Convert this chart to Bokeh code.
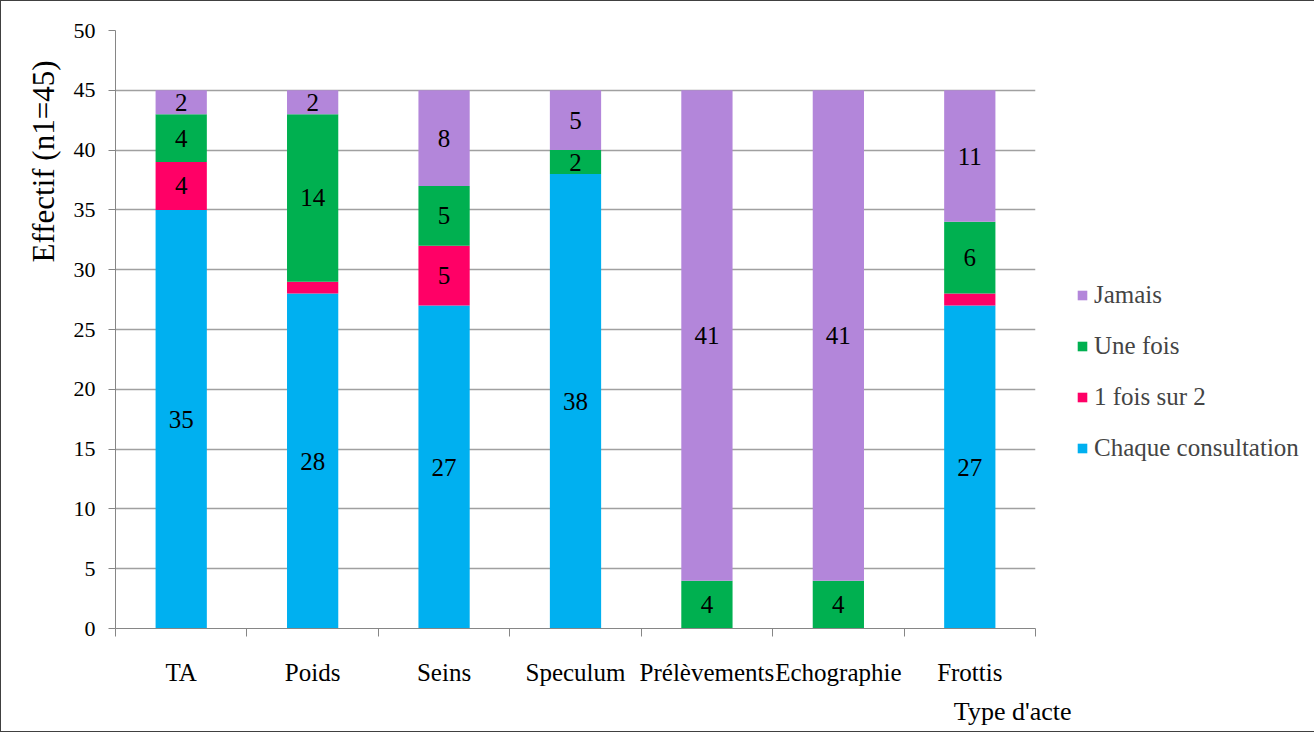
from bokeh.plotting import figure
from bokeh.models import (ColumnDataSource, Range1d, FixedTicker,
                          Legend, LegendItem, LabelSet, Title)
from bokeh.embed import file_html
from bokeh.resources import INLINE

categories = ["TA", "Poids", "Seins", "Speculum", "Prélèvements", "Echographie", "Frottis"]
series_names = ["Chaque consultation", "1 fois sur 2", "Une fois", "Jamais"]
chaque = [35, 28, 27, 38, 0, 0, 27]
une_sur_deux = [4, 1, 5, 0, 0, 0, 1]
une_fois = [4, 14, 5, 2, 4, 4, 6]
jamais = [2, 2, 8, 5, 41, 41, 11]
colors = ["#00B0F0", "#FF0066", "#00B050", "#B386DA"]
y_ticks = list(range(0, 51, 5))
y_title = "Effectif (n1=45)"
x_title = "Type d'acte"

FONT = "Liberation Serif"
keys = ["s0", "s1", "s2", "s3"]
xs = [i + 0.5 for i in range(len(categories))]
data = {"x": xs}
for k, vals in zip(keys, [chaque, une_sur_deux, une_fois, jamais]):
    data[k] = vals
source = ColumnDataSource(data)

p = figure(frame_width=920, frame_height=598, output_backend="svg", toolbar_location=None,
           x_range=Range1d(0, len(categories)), y_range=Range1d(0, 50),
           min_border_left=114, min_border_right=266, min_border_top=29,
           min_border_bottom=92,
           background_fill_color="white", border_fill_color="white")
p.outline_line_color = None
p.styles = {"border": "1px solid #404040"}

renderers = p.vbar_stack(keys, x="x", width=0.39, source=source, color=colors, line_color=None)

# value labels
lx, ly, lt = [], [], []
for i in range(len(categories)):
    base = 0
    for vals in [chaque, une_sur_deux, une_fois, jamais]:
        v = vals[i]
        if v >= 2:
            lx.append(xs[i]); ly.append(base + v / 2); lt.append(str(v))
        base += v
lab_src = ColumnDataSource(dict(x=lx, y=ly, t=lt))
p.add_layout(LabelSet(x="x", y="y", text="t", source=lab_src, text_align="center",
                      text_baseline="middle", text_font=FONT, text_font_size="25px",
                      text_color="black"))

# axes
p.xaxis.ticker = FixedTicker(ticks=xs, minor_ticks=list(range(len(categories) + 1)))
p.xaxis.major_label_overrides = {x: c for x, c in zip(xs, categories)}
p.xaxis.major_tick_out = 0
p.xaxis.major_tick_in = 0
p.xaxis.minor_tick_out = 8
p.xaxis.minor_tick_in = 0
p.xaxis.minor_tick_line_color = "#868686"
p.xaxis.axis_line_color = "#868686"
p.xaxis.major_label_standoff = 22
p.xaxis.major_label_text_font_size = "25px"

p.yaxis.ticker = FixedTicker(ticks=y_ticks)
p.yaxis.major_tick_out = 7
p.yaxis.major_tick_in = 0
p.yaxis.minor_tick_line_color = None
p.yaxis.axis_line_color = "#868686"
p.yaxis.major_tick_line_color = "#868686"
p.yaxis.major_label_standoff = 13
p.yaxis.major_label_text_font_size = "22px"

for ax in (p.xaxis, p.yaxis):
    ax.major_label_text_font = FONT
    ax.major_label_text_color = "black"

p.xgrid.grid_line_color = None
p.ygrid.ticker = FixedTicker(ticks=y_ticks)
p.ygrid.grid_line_color = "#A0A0A0"
p.ygrid.grid_line_width = 1.5

p.add_layout(Title(text=y_title, align="right", offset=30, standoff=19,
                   text_font=FONT, text_font_size="31px", text_font_style="normal",
                   text_color="black"), "left")
p.add_layout(Title(text=x_title, align="right", offset=-36, standoff=12,
                   text_font=FONT, text_font_size="26px", text_font_style="normal",
                   text_color="black"), "below")

items = [LegendItem(label=n, renderers=[r]) for n, r in zip(series_names, renderers)][::-1]
legend = Legend(items=items, location=(41, 166), padding=0, margin=0,
                border_line_color=None, background_fill_alpha=0,
                label_text_font=FONT, label_text_font_size="25px",
                glyph_width=12, glyph_height=12, label_height=25, spacing=23,
                label_standoff=6)
p.add_layout(legend, "right")

open("out.html", "w").write(file_html(p, INLINE))
